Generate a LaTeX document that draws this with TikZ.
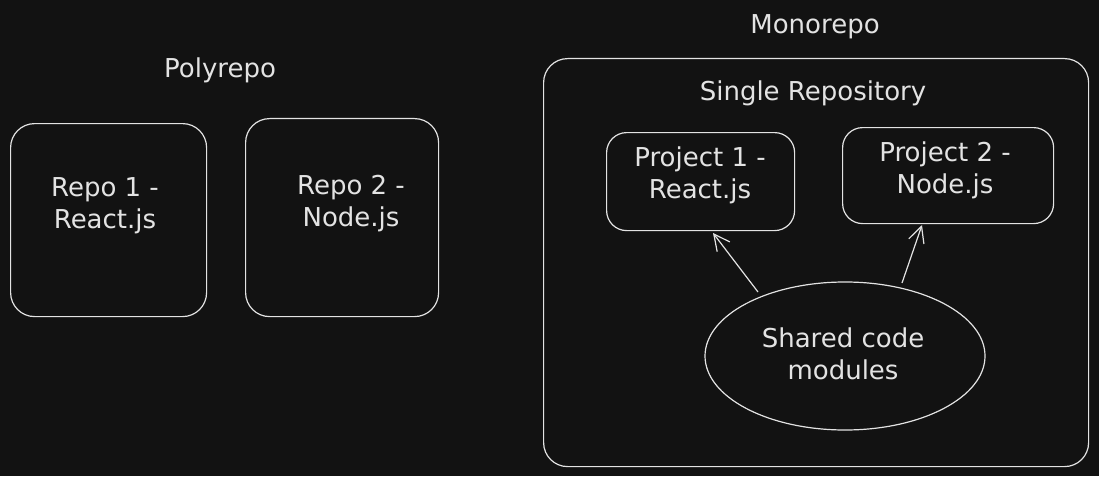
\documentclass[tikz,border=0pt]{standalone}
\usepackage{fontspec}
\setmainfont{DejaVu Sans}
\usetikzlibrary{arrows.meta,shapes.geometric}
\definecolor{bg}{HTML}{121212}
\definecolor{ink}{HTML}{E3E3E3}
\begin{document}
\begin{tikzpicture}[x=1pt,y=-1pt,
  box/.style={draw=ink,line width=1.2pt,rounded corners=24pt,anchor=north west,inner sep=0pt},
  lbl/.style={text=ink,font=\fontsize{26}{32}\selectfont,align=center},
  arr/.style={draw=ink,line width=1.2pt,-{Straight Barb[length=16pt,width=16pt,line width=1.2pt]}}]
\fill[bg] (0,0) rectangle (1099,476);
\useasboundingbox (0,0) rectangle (1099,476);
% Polyrepo
\node[lbl] (poly) at (220,70) {Polyrepo};
\node[box,minimum width=196pt,minimum height=193pt] (r1) at (10,123) {};
\node[lbl] (r1t) at (105,206) {Repo 1 -\\React.js};
\node[box,minimum width=193pt,minimum height=198pt] (r2) at (245,118) {};
\node[lbl] (r2t) at (351,204) {Repo 2 -\\Node.js};
% Monorepo
\node[lbl] (mono) at (815,27) {Monorepo};
\node[box,minimum width=545pt,minimum height=408pt] (big) at (543,58) {};
\node[lbl] (single) at (813,93) {Single Repository};
\node[box,rounded corners=20pt,minimum width=188pt,minimum height=98pt] (p1) at (606,132) {};
\node[lbl] (p1t) at (700,175) {Project 1 -\\React.js};
\node[box,rounded corners=20pt,minimum width=211pt,minimum height=96pt] (p2) at (842,127) {};
\node[lbl] (p2t) at (945,170) {Project 2 -\\Node.js};
\node[draw=ink,line width=1.2pt,ellipse,minimum width=280pt,minimum height=148pt,inner sep=0pt] (sh) at (845,356) {};
\node[lbl] (sht) at (843,354) {Shared code\\modules};
% arrows
\coordinate (a1s) at (758,292);
\coordinate (a1e) at (713,233);
\coordinate (a2s) at (902,283);
\coordinate (a2e) at (922,225);
\draw[arr] (a1s) -- (a1e);
\draw[arr] (a2s) -- (a2e);
\end{tikzpicture}
\end{document}
